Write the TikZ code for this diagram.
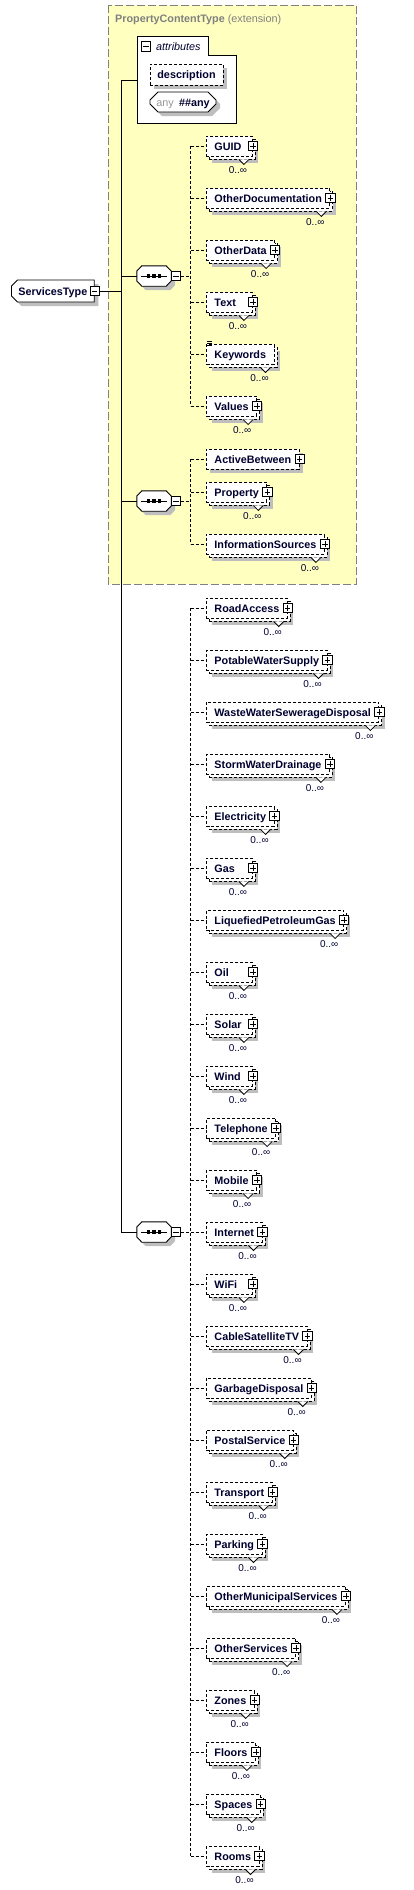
\documentclass[tikz,border=0pt]{standalone}
\usepackage{fontspec}
\setmainfont{Liberation Sans}
\usetikzlibrary{shapes.misc,shadows,calc}
\definecolor{ylw}{RGB}{255,255,192}
\definecolor{ylwb}{RGB}{128,128,128}
\definecolor{shd}{RGB}{190,190,190}
\definecolor{txt}{RGB}{0,0,48}
\definecolor{gtxt}{RGB}{128,128,128}
\definecolor{anyc}{RGB}{150,150,150}
\newcommand\elbox[1]{\setbox0\hbox{#1}\ifdim\wd0<30pt\hbox to 30pt{#1\hfil}\else\box0\fi}
\newcommand\infs{∞}
\tikzset{
  ln/.style={line width=0.9pt, draw=black},
  dsh/.style={dash pattern=on 3pt off 2pt},
  conn/.style={ln,dsh},
  shdfour/.style={drop shadow={shadow xshift=4pt,shadow yshift=-4pt,fill=shd,opacity=1}},
  elfont/.style={font=\fontsize{10.8}{12}\selectfont\bfseries, text=txt},
  single/.style={ln,dsh,fill=white,anchor=west,inner xsep=8pt,inner ysep=0pt,minimum height=20pt,
     text height=8.5pt,text depth=0pt,elfont,shdfour},
  multi/.style={ln,dsh,fill=white,anchor=west,inner xsep=8pt,inner ysep=0pt,minimum height=20pt,
     text height=8.5pt,text depth=0pt,elfont,
     drop shadow={shadow xshift=6pt,shadow yshift=-7pt,fill=shd,opacity=1},
     copy shadow={shadow xshift=3pt,shadow yshift=-3pt,draw=black,fill=white,line width=0.9pt,dsh}},
  plusbox/.style={draw=black,line width=0.8pt,solid,fill=white,minimum size=9.5pt,inner sep=0pt,
     path picture={\draw[black,line width=0.8pt] ([xshift=2pt]path picture bounding box.west) -- ([xshift=-2pt]path picture bounding box.east)
        ([yshift=-2pt]path picture bounding box.north) -- ([yshift=2pt]path picture bounding box.south);}},
  minusbox/.style={draw=black,line width=0.8pt,solid,fill=white,minimum size=9.5pt,inner sep=0pt,
     path picture={\draw[black,line width=0.8pt] ([xshift=2pt]path picture bounding box.west) -- ([xshift=-2pt]path picture bounding box.east);}},
  notch/.style={draw=black,line width=0.8pt,solid,fill=white},
  card/.style={font=\fontsize{10}{12}\selectfont, text=txt, inner sep=0pt},
  seqframe/.style={draw=none, minimum width=34pt, minimum height=20pt, inner sep=0pt},
}
\newcommand\mel[2]{% name, y
  \node[multi] (e-#1) at (206,#2) {\elbox{#1}\hspace{4pt}};
  \node[plusbox] (e-#1-p) at (e-#1.east) {};
  \draw[notch] ([shift={(-14,3)}]e-#1.south east) -- ++(5,5) -- ++(5,-5);
  \node[card] (e-#1-c) at ([shift={(-15,14)}]e-#1.south east) {0..\infs};
}
\newcommand\seqn[2]{% name, y
  \node[seqframe] (#1) at (154,#2) {};
  \draw[ln, fill=white, shdfour] ([yshift=5pt]#1.west) -- ([xshift=5pt]#1.north west) -- ([xshift=-5pt]#1.north east)
     -- ([yshift=5pt]#1.east) -- ([yshift=-5pt]#1.east) -- ([xshift=-5pt]#1.south east)
     -- ([xshift=5pt]#1.south west) -- ([yshift=-5pt]#1.west) -- cycle;
  \draw[ln] ([xshift=4pt]#1.west) -- ([xshift=-4pt]#1.east);
  \foreach \dx in {-5.5pt,0pt,5.5pt} \fill[black] ([xshift=\dx]#1.center) +(-1.7,-1.7) rectangle +(1.7,1.7);
  \node[minusbox] (#1m) at (176,#2) {};
}
\begin{document}
\begin{tikzpicture}[x=1pt,y=-1pt]
\useasboundingbox (0,0) rectangle (414,1890);
% extension area
\draw[fill=ylw, draw=ylwb, line width=0.9pt, dash pattern=on 8pt off 3pt] (108,5) rectangle (356,584);
\node[anchor=base west, inner sep=0pt, text=gtxt, font=\fontsize{10.8}{12}\selectfont] (title) at (115,22) {\textbf{PropertyContentType} (extension)};
% attributes
\draw[ln, fill=white] (137,36) -- (208,36) -- (208,55) -- (236,55) -- (236,123) -- (137,123) -- cycle;
\node[minusbox] (am) at (146,46.5) {};
\node[anchor=west, inner sep=0pt, text=txt, font=\fontsize{10.8}{12}\selectfont\itshape] (atl) at (156,47) {attributes};
\node[ln,dsh,fill=white,minimum width=73pt,minimum height=21pt,inner sep=0pt,elfont,text height=8.5pt,text depth=0pt,shdfour] (desc) at (186.5,74.5) {description};
\node[chamfered rectangle, chamfered rectangle xsep=4pt, chamfered rectangle ysep=4pt, ln, fill=white, minimum width=66pt, minimum height=20pt, inner sep=0pt, text height=8.5pt, text depth=0pt, shdfour, font=\fontsize{10.8}{12}\selectfont, text=txt] (anyn) at (183,102) {{\color{anyc}any}\enspace\textbf{\#\#any}};
\coordinate (attr) at (137,80);
\coordinate (trunk) at (121,80);
\coordinate (v) at (190.5,0);
% root
\node[chamfered rectangle, chamfered rectangle corners={north west,south west}, chamfered rectangle xsep=3pt, chamfered rectangle ysep=3pt,
  ln, fill=white, anchor=west, inner xsep=4pt, inner ysep=0pt, minimum height=22pt, text height=8.5pt, text depth=0pt, elfont, shdfour] (st) at (11,291) {ServicesType\hspace{6pt}};
\node[minusbox] (stm) at (st.east) {};
% sequences
\seqn{seq1}{276}
\seqn{seq2}{501}
\seqn{seq3}{1232}
% trunk connectors
\draw[ln] (attr) -- (trunk) -- (trunk |- seq3.west) -- (seq3.west);
\draw[ln] (stm.east) -- (stm.east -| trunk);
\draw[ln] (trunk |- seq1.west) -- (seq1.west);
\draw[ln] (trunk |- seq2.west) -- (seq2.west);
% group 1
\mel{GUID}{146}
\mel{OtherDocumentation}{198}
\mel{OtherData}{250}
\mel{Text}{302}
\node[multi] (e-Keywords) at (206,354) {Keywords};
\draw[notch] ([shift={(-14,3)}]e-Keywords.south east) -- ++(5,5) -- ++(5,-5);
\node[card] (e-Keywords-c) at ([shift={(-15,14)}]e-Keywords.south east) {0..\infs};
\draw[line width=0.6pt] ([shift={(1,-2)}]e-Keywords.north west) -- ++(5,0) ++(-5,2) -- ++(5,0) ++(-5,2) -- ++(5,0);
\mel{Values}{406}
\draw[conn] (seq1m.east) -- (seq1m.east -| v);
\draw[conn] (v |- e-GUID.west) -- (v |- e-Values.west);
\foreach \nm in {GUID,OtherDocumentation,OtherData,Text,Keywords,Values}
  \draw[conn] (v |- e-\nm.west) -- (e-\nm.west);
% group 2
\node[single] (e-ActiveBetween) at (206,459) {ActiveBetween\hspace{4pt}};
\node[plusbox] (e-ActiveBetween-p) at (e-ActiveBetween.east) {};
\mel{Property}{492}
\mel{InformationSources}{544}
\draw[conn] (seq2m.east) -- (seq2m.east -| v);
\draw[conn] (v |- e-ActiveBetween.west) -- (v |- e-InformationSources.west);
\foreach \nm in {ActiveBetween,Property,InformationSources}
  \draw[conn] (v |- e-\nm.west) -- (e-\nm.west);
% group 3
\foreach \nm [count=\i from 0] in {RoadAccess,PotableWaterSupply,WasteWaterSewerageDisposal,StormWaterDrainage,Electricity,Gas,LiquefiedPetroleumGas,Oil,Solar,Wind,Telephone,Mobile,Internet,WiFi,CableSatelliteTV,GarbageDisposal,PostalService,Transport,Parking,OtherMunicipalServices,OtherServices,Zones,Floors,Spaces,Rooms}
{
  \pgfmathsetmacro\yy{608+52*\i}
  \mel{\nm}{\yy}
  \draw[conn] (v |- e-\nm.west) -- (e-\nm.west);
}
\draw[conn] (seq3m.east) -- (seq3m.east -| v);
\draw[conn] (v |- e-RoadAccess.west) -- (v |- e-Rooms.west);
\end{tikzpicture}
\end{document}
